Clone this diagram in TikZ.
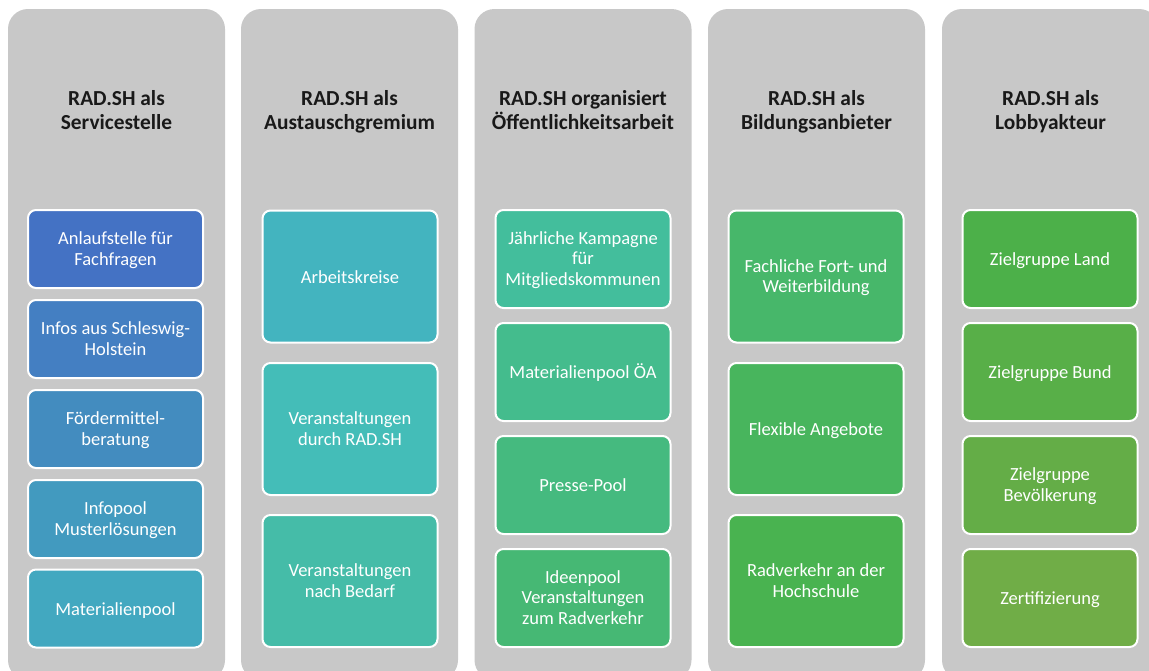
\documentclass[tikz,border=0pt]{standalone}
\usepackage{fontspec}
\setmainfont{Carlito}
\definecolor{colgray}{HTML}{C8C8C8}
\definecolor{ca}{HTML}{4472C4}
\definecolor{cb}{HTML}{447FC2}
\definecolor{cc}{HTML}{438CBF}
\definecolor{cd}{HTML}{429ABF}
\definecolor{ce}{HTML}{42A8C0}
\definecolor{cf}{HTML}{43B4BF}
\definecolor{cg}{HTML}{44BDB8}
\definecolor{ch}{HTML}{45BCA8}
\definecolor{ci}{HTML}{43BE9C}
\definecolor{cj}{HTML}{44BC8D}
\definecolor{ck}{HTML}{45BA7F}
\definecolor{cl}{HTML}{46B874}
\definecolor{cm}{HTML}{47B76A}
\definecolor{cn}{HTML}{48B55D}
\definecolor{co}{HTML}{49B350}
\definecolor{cp}{HTML}{4CB049}
\definecolor{cq}{HTML}{58AF48}
\definecolor{cr}{HTML}{64AD47}
\definecolor{cs}{HTML}{70AD47}
\tikzset{
  column/.style={fill=colgray, draw=none, rounded corners=20pt, minimum width=217pt, minimum height=671pt, inner sep=0pt},
  title/.style={font=\fontsize{21.4}{24.5}\selectfont\bfseries, text=black!90, align=center,
    execute at begin node=\strut, execute at end node=\strut},
  item/.style={draw=white, line width=2pt, rounded corners=8pt, minimum width=175pt, inner sep=0pt, text=white, align=center, font=\fontsize{18.5}{20.5}\selectfont,
    execute at begin node=\strut, execute at end node=\strut},
  short/.style={item, minimum height=78pt},
  tall/.style={item, minimum height=132pt},
  mid/.style={item, minimum height=98pt}
}
\begin{document}
\begin{tikzpicture}[x=1pt,y=-1pt]
\useasboundingbox (0,0) rectangle (1149,670);
\fill[white] (0,0) rectangle (1149,670);
% columns
\node[column] (k1) at (116.5,344.5) {};
\node[column] (k2) at (349.5,344.5) {};
\node[column] (k3) at (583,344.5) {};
\node[column] (k4) at (816.5,344.5) {};
\node[column] (k5) at (1050.5,344.5) {};
% titles
\node[title] (t1) at (116.5,113.5) {RAD.SH als\\Servicestelle};
\node[title] (t2) at (349.5,113.5) {RAD.SH als\\Austauschgremium};
\node[title] (t3) at (583,113.5) {RAD.SH organisiert\\Öffentlichkeitsarbeit};
\node[title] (t4) at (816.5,113.5) {RAD.SH als\\Bildungsanbieter};
\node[title] (t5) at (1050.5,113.5) {RAD.SH als\\Lobbyakteur};
% column 1
\node[short, fill=ca] (a1) at (115.5,249) {};
\node[short, fill=cb] (a2) at (115.5,339) {};
\node[short, fill=cc] (a3) at (115.5,429) {};
\node[short, fill=cd] (a4) at (115.5,519) {};
\node[short, fill=ce] (a5) at (115.5,608.5) {};
% column 2
\node[tall, fill=cf] (b1) at (350,276.5) {};
\node[tall, fill=cg] (b2) at (350,429) {};
\node[tall, fill=ch] (b3) at (350,581) {};
% column 3
\node[mid, fill=ci] (d1) at (583,259) {};
\node[mid, fill=cj] (d2) at (583,372) {};
\node[mid, fill=ck] (d3) at (583,485) {};
\node[mid, fill=cl] (d4) at (583,598) {};
% column 4
\node[tall, fill=cm] (e1) at (816,276.5) {};
\node[tall, fill=cn] (e2) at (816,429) {};
\node[tall, fill=co] (e3) at (816,581) {};
% column 5
\node[mid, fill=cp] (f1) at (1050,259) {};
\node[mid, fill=cq] (f2) at (1050,372) {};
\node[mid, fill=cr] (f3) at (1050,485) {};
\node[mid, fill=cs] (f4) at (1050,598) {};
% box texts (slightly lowered to match the reference)
\tikzset{label/.style={text=white, align=center, font=\fontsize{18.5}{20.5}\selectfont, inner sep=0pt,
    execute at begin node=\strut, execute at end node=\strut}}
\node[label] (la1) at ([yshift=-2.5pt]a1.center) {Anlaufstelle für\\Fachfragen};
\node[label] (la2) at ([yshift=-2.5pt]a2.center) {Infos aus Schleswig-\\Holstein};
\node[label] (la3) at ([yshift=-2.5pt]a3.center) {Fördermittel-\\beratung};
\node[label] (la4) at ([yshift=-2.5pt]a4.center) {Infopool\\Musterlösungen};
\node[label] (la5) at ([yshift=-2.5pt]a5.center) {Materialienpool};
\node[label] (lb1) at ([yshift=-2.5pt]b1.center) {Arbeitskreise};
\node[label] (lb2) at ([yshift=-2.5pt]b2.center) {Veranstaltungen\\durch RAD.SH};
\node[label] (lb3) at ([yshift=-2.5pt]b3.center) {Veranstaltungen\\nach Bedarf};
\node[label] (ld1) at ([yshift=-2.5pt]d1.center) {Jährliche Kampagne\\für\\Mitgliedskommunen};
\node[label] (ld2) at ([yshift=-2.5pt]d2.center) {Materialienpool ÖA};
\node[label] (ld3) at ([yshift=-2.5pt]d3.center) {Presse-Pool};
\node[label] (ld4) at ([yshift=-2.5pt]d4.center) {Ideenpool\\Veranstaltungen\\zum Radverkehr};
\node[label] (le1) at ([yshift=-2.5pt]e1.center) {Fachliche Fort- und\\Weiterbildung};
\node[label] (le2) at ([yshift=-2.5pt]e2.center) {Flexible Angebote};
\node[label] (le3) at ([yshift=-2.5pt]e3.center) {Radverkehr an der\\Hochschule};
\node[label] (lf1) at ([yshift=-2.5pt]f1.center) {Zielgruppe Land};
\node[label] (lf2) at ([yshift=-2.5pt]f2.center) {Zielgruppe Bund};
\node[label] (lf3) at ([yshift=-2.5pt]f3.center) {Zielgruppe\\Bevölkerung};
\node[label] (lf4) at ([yshift=-2.5pt]f4.center) {Zertifizierung};
\end{tikzpicture}
\end{document}
